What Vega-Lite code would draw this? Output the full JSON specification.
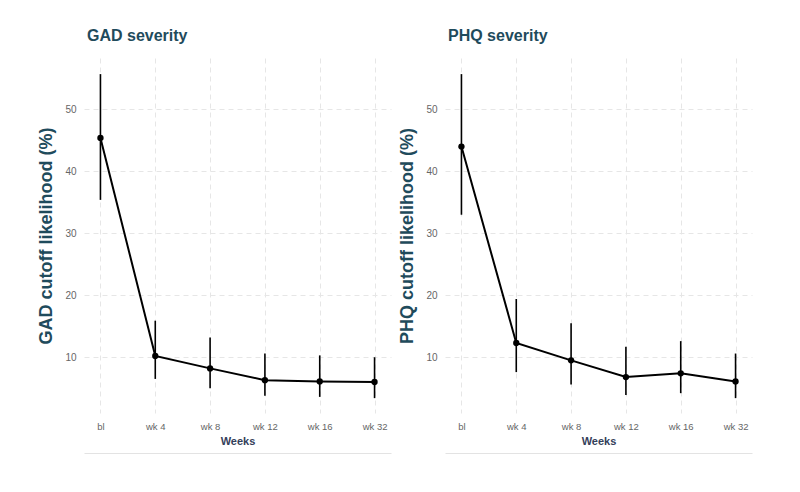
{
  "$schema": "https://vega.github.io/schema/vega-lite/v6.json",
  "padding": {"left": 37, "top": 28, "right": 5, "bottom": 5},
  "background": "white",
  "spacing": 7,
  "datasets": {
    "ci": [
      {"panel": "GAD", "week": "bl", "est": 45.4, "lo": 35.4, "hi": 55.7},
      {"panel": "GAD", "week": "wk 4", "est": 10.2, "lo": 6.5, "hi": 15.9},
      {"panel": "GAD", "week": "wk 8", "est": 8.2, "lo": 5.0, "hi": 13.2},
      {"panel": "GAD", "week": "wk 12", "est": 6.3, "lo": 3.8, "hi": 10.6},
      {"panel": "GAD", "week": "wk 16", "est": 6.1, "lo": 3.6, "hi": 10.3},
      {"panel": "GAD", "week": "wk 32", "est": 6.0, "lo": 3.4, "hi": 10.0},
      {"panel": "PHQ", "week": "bl", "est": 44.0, "lo": 33.0, "hi": 55.7},
      {"panel": "PHQ", "week": "wk 4", "est": 12.3, "lo": 7.6, "hi": 19.4},
      {"panel": "PHQ", "week": "wk 8", "est": 9.5, "lo": 5.6, "hi": 15.5},
      {"panel": "PHQ", "week": "wk 12", "est": 6.8, "lo": 3.9, "hi": 11.7},
      {"panel": "PHQ", "week": "wk 16", "est": 7.4, "lo": 4.2, "hi": 12.6},
      {"panel": "PHQ", "week": "wk 32", "est": 6.1, "lo": 3.4, "hi": 10.6}
    ]
  },
  "config": {
    "font": "Liberation Sans",
    "view": {"stroke": null},
    "title": {"anchor": "start", "frame": "group", "fontSize": 16, "fontWeight": "bold", "color": "#1f4b5c", "offset": 14, "dx": 3, "font": "Liberation Sans"},
    "axis": {
      "grid": true,
      "gridColor": "#e6e6e6",
      "gridDash": [5, 4],
      "gridWidth": 1,
      "domain": false,
      "ticks": false,
      "labelColor": "#666666",
      "labelFontSize": 10,
      "labelFont": "Liberation Sans",
      "titleFont": "Liberation Sans"
    }
  },
  "hconcat": [
    {
      "title": "GAD severity",
      "width": 307,
      "height": 355,
      "data": {"name": "ci"},
      "transform": [{"filter": "datum.panel === 'GAD'"}],
      "resolve": {"scale": {"x": "independent"}, "axis": {"x": "independent"}},
      "layer": [
        {
          "layer": [
            {"mark": {"type": "rule", "color": "black", "strokeWidth": 1.6}, "encoding": {"y": {"field": "lo"}, "y2": {"field": "hi"}}},
            {"mark": {"type": "line", "color": "black", "strokeWidth": 2}, "encoding": {}},
            {"mark": {"type": "point", "filled": true, "color": "black", "opacity": 1, "size": 40}, "encoding": {}}
          ],
          "encoding": {
            "x": {"field": "week", "type": "ordinal", "sort": ["bl", "wk 4", "wk 8", "wk 12", "wk 16", "wk 32"],
                  "scale": {"type": "point", "padding": 0.3},
                  "axis": {"title": "Weeks", "titleFontSize": 11, "titleColor": "#34405a", "titleFontWeight": "bold", "titlePadding": 5, "labelPadding": 8, "labelAngle": 0, "labelFontSize": 9.5}},
            "y": {"field": "est", "type": "quantitative", "scale": {"domain": [1, 58.3], "nice": false, "zero": false},
                  "axis": {"title": "GAD cutoff likelihood (%)", "values": [10, 20, 30, 40, 50], "titleFontSize": 18, "titleColor": "#1f4b5c", "titleFontWeight": "bold", "titlePadding": 9, "labelPadding": 8}}
          }
        },
        {
          "mark": {"type": "point", "opacity": 0},
          "encoding": {
            "x": {"field": "week", "type": "ordinal", "sort": ["bl", "wk 4", "wk 8", "wk 12", "wk 16", "wk 32"],
                  "scale": {"type": "point", "padding": 0.3},
                  "axis": {"orient": "bottom", "grid": false, "labels": false, "title": null, "domain": true, "domainColor": "#e3e3e3", "domainWidth": 1, "offset": 40}},
            "y": {"field": "est", "type": "quantitative"}
          }
        }
      ]
    },
    {
      "title": "PHQ severity",
      "width": 307,
      "height": 355,
      "data": {"name": "ci"},
      "transform": [{"filter": "datum.panel === 'PHQ'"}],
      "resolve": {"scale": {"x": "independent"}, "axis": {"x": "independent"}},
      "layer": [
        {
          "layer": [
            {"mark": {"type": "rule", "color": "black", "strokeWidth": 1.6}, "encoding": {"y": {"field": "lo"}, "y2": {"field": "hi"}}},
            {"mark": {"type": "line", "color": "black", "strokeWidth": 2}, "encoding": {}},
            {"mark": {"type": "point", "filled": true, "color": "black", "opacity": 1, "size": 40}, "encoding": {}}
          ],
          "encoding": {
            "x": {"field": "week", "type": "ordinal", "sort": ["bl", "wk 4", "wk 8", "wk 12", "wk 16", "wk 32"],
                  "scale": {"type": "point", "padding": 0.3},
                  "axis": {"title": "Weeks", "titleFontSize": 11, "titleColor": "#34405a", "titleFontWeight": "bold", "titlePadding": 5, "labelPadding": 8, "labelAngle": 0, "labelFontSize": 9.5}},
            "y": {"field": "est", "type": "quantitative", "scale": {"domain": [1, 58.3], "nice": false, "zero": false},
                  "axis": {"title": "PHQ cutoff likelihood (%)", "values": [10, 20, 30, 40, 50], "titleFontSize": 18, "titleColor": "#1f4b5c", "titleFontWeight": "bold", "titlePadding": 9, "labelPadding": 8}}
          }
        },
        {
          "mark": {"type": "point", "opacity": 0},
          "encoding": {
            "x": {"field": "week", "type": "ordinal", "sort": ["bl", "wk 4", "wk 8", "wk 12", "wk 16", "wk 32"],
                  "scale": {"type": "point", "padding": 0.3},
                  "axis": {"orient": "bottom", "grid": false, "labels": false, "title": null, "domain": true, "domainColor": "#e3e3e3", "domainWidth": 1, "offset": 40}},
            "y": {"field": "est", "type": "quantitative"}
          }
        }
      ]
    }
  ]
}
